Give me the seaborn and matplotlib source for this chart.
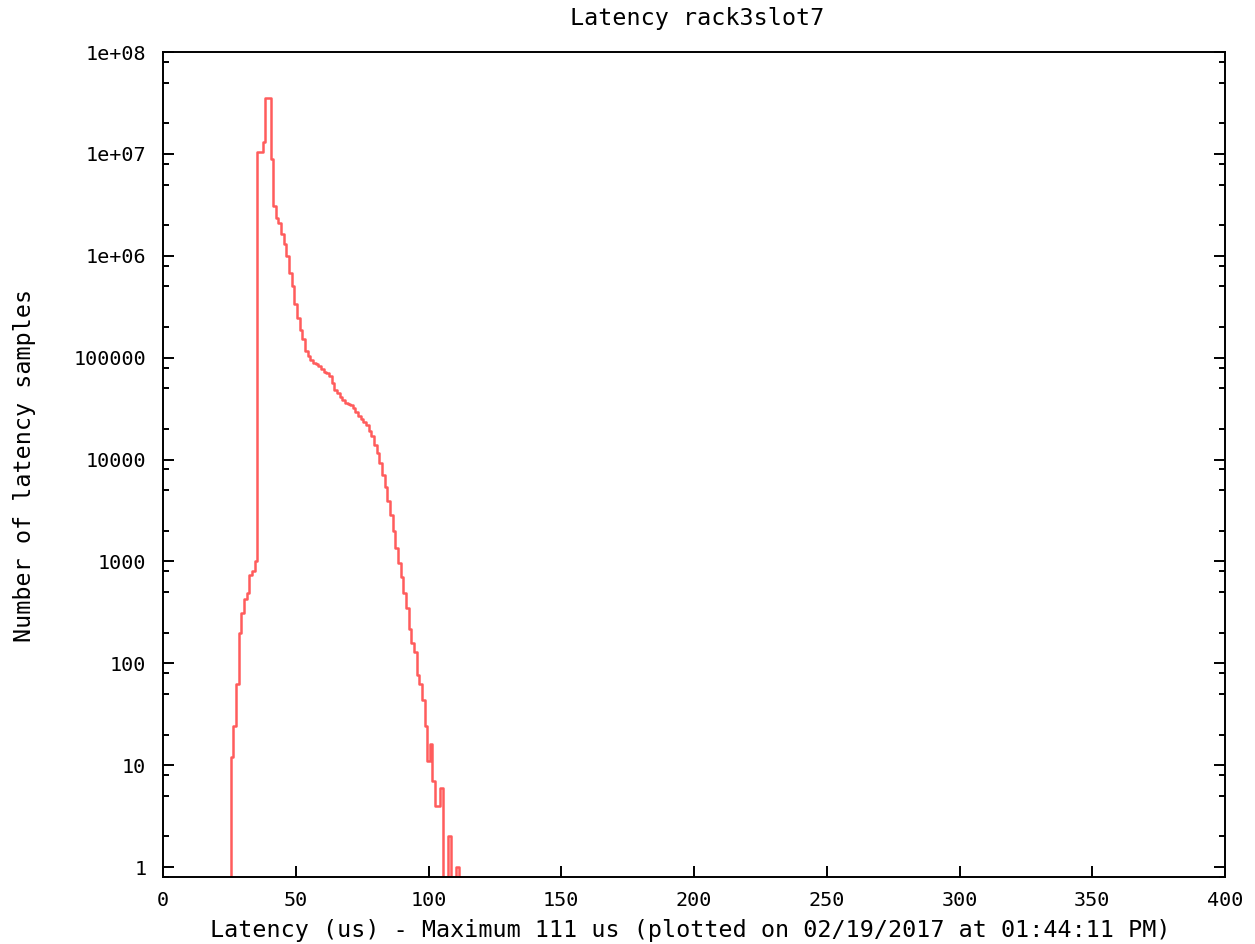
import numpy as np
import pandas as pd
import matplotlib
matplotlib.use("Agg")
import matplotlib.pyplot as plt
import seaborn as sns
from matplotlib.ticker import LogLocator, FixedLocator, FixedFormatter, NullFormatter

# ---- data ----
latency_us = list(range(25, 113))
samples = [
    0, 12, 24, 62, 198, 311, 425, 490, 735, 807, 1000,                       # 25..35
    10500000, 10500000, 13000000, 35000000, 35000000, 9000000, 3070000,      # 36..42
    2360000, 2120000, 1630000,                                               # 43..45
    1300000, 1000000, 680000, 500000, 335000, 243000, 186000, 154000, 117000, 103000,  # 46..55
    95000, 89000, 86000, 83000, 78000, 73000, 71000, 66000, 57000, 48000,   # 56..65
    45000, 41000, 38000, 36000, 35000, 34000, 32000, 29000, 27000, 25000,   # 66..75
    23500, 22000, 19000, 17000, 14000, 11700, 9300, 7000, 5400, 3900,       # 76..85
    2850, 2000, 1370, 960, 700, 490, 350, 215, 160, 130,                    # 86..95
    76, 63, 44, 24, 11, 16, 7, 4, 4, 6,                                      # 96..105
    0, 0, 2, 0, 0, 1, 0,                                                     # 106..112
]
x_ticks = [0, 50, 100, 150, 200, 250, 300, 350, 400]
y_ticks = [1, 10, 100, 1000, 10000, 100000, 1000000, 10000000, 100000000]
y_tick_labels = ["1", "10", "100", "1000", "10000", "100000", "1e+06", "1e+07", "1e+08"]
title = "Latency rack3slot7"
x_label = "Latency (us) - Maximum 111 us (plotted on 02/19/2017 at 01:44:11 PM)"
y_label = "Number of latency samples"

sns.set_style("white")
plt.rcParams["font.family"] = ["DejaVu Sans Mono", "DejaVu Sans"]
plt.rcParams["text.color"] = "black"
plt.rcParams["axes.labelcolor"] = "black"
plt.rcParams["xtick.color"] = "black"
plt.rcParams["ytick.color"] = "black"

W, H = 1255, 944
fig = plt.figure(figsize=(W / 100, H / 100), dpi=100)
L, R, T, B = 163, 1225, 52, 877
ax = fig.add_axes([L / W, 1 - B / H, (R - L) / W, (B - T) / H])

df = pd.DataFrame({"latency": latency_us, "samples": samples})
sns.lineplot(data=df, x="latency", y="samples", ax=ax, estimator=None,
             drawstyle="steps-mid", color="#ff5c5c", linewidth=1.8)

ax.set_yscale("log", nonpositive="clip")
ax.set_xlim(0, 400)
ax.set_ylim(0.8, 1e8)

for s in ax.spines.values():
    s.set_color("black")
    s.set_linewidth(1.4)

ax.xaxis.set_major_locator(FixedLocator(x_ticks))
ax.yaxis.set_major_locator(FixedLocator(y_ticks))
ax.yaxis.set_major_formatter(FixedFormatter(y_tick_labels))
ax.yaxis.set_minor_locator(LogLocator(base=10, subs=[2, 5, 8], numticks=20))
ax.yaxis.set_minor_formatter(NullFormatter())

ax.tick_params(axis="x", which="major", direction="in", length=8, width=1.4,
               bottom=True, top=False, labelsize=14.5, pad=10, colors="black")
ax.tick_params(axis="x", which="minor", bottom=False, top=False)
ax.tick_params(axis="y", which="major", direction="in", length=8, width=1.4,
               left=True, right=True, labelsize=14.5, pad=12, colors="black")
ax.tick_params(axis="y", which="minor", direction="in", length=4, width=1.4,
               left=True, right=True)

ax.set_xlabel(x_label, fontsize=16.8, color="black")
ax.xaxis.label.set_va("center")
ax.xaxis.set_label_coords((690 - L) / (R - L), (B - 931) / (B - T))
ax.set_ylabel(y_label, fontsize=16.8, color="black")
ax.yaxis.label.set_va("center")
ax.yaxis.set_label_coords((25 - L) / (R - L), (B - 465) / (B - T))
ax.set_title(title, fontsize=16.8, y=(B - 18) / (B - T), pad=0, va="center",
             x=(697 - L) / (R - L), color="black")

fig.savefig("out.png", dpi=100, facecolor="white")
